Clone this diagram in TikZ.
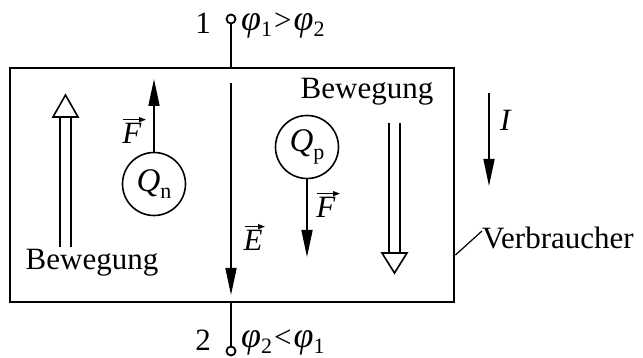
\documentclass[tikz,border=0pt]{standalone}
\usepackage{fontspec}
\setmainfont{Liberation Serif}
\usetikzlibrary{arrows.meta}
\newcommand{\sbs}[1]{\raisebox{-0.22em}{\fontsize{22}{22}\selectfont #1}}
\newcommand{\phisym}{{\fontsize{36}{36}\selectfont\textit{φ}}}
\begin{document}
\begin{tikzpicture}[x=1pt,y=-1pt,
  txt/.style={font=\fontsize{31}{36}\selectfont, inner sep=0pt},
  arr/.style={line width=1.6pt, -{Triangle[length=27pt,width=11pt]}},
  veca/.style={line width=1.2pt, -{Triangle[length=7pt,width=5pt]}},
  charge/.style={circle, draw, line width=1.6pt, minimum size=63pt, inner sep=0pt, font=\fontsize{33}{36}\selectfont},
  term/.style={circle, draw, line width=1.8pt, minimum size=9pt, inner sep=0pt, fill=white},
  hollow/.style={line width=1.6pt}]
\useasboundingbox (0,0) rectangle (643,358);
% box
\node[draw, line width=2.4pt, minimum width=444pt, minimum height=234pt, anchor=north west, inner sep=0pt] (box) at (9,67) {};
% terminals
\node[term] (t1) at (231,19) {};
\node[term] (t2) at (231,351) {};
\draw[line width=1.6pt] (t1.south) -- (t1.south |- box.north);
\draw[line width=1.6pt] (t2.north) -- (t2.north |- box.south);
\node[txt] (n1) at (203,23) {1};
\node[txt, anchor=west] (phi1) at (241,25) {\phisym\sbs{1}\kern2pt>\kern2pt\phisym\sbs{2}};
\node[txt] (n2) at (203,340) {2};
\node[txt, anchor=west] (phi2) at (241,342) {\phisym\sbs{2}\kern2pt<\kern2pt\phisym\sbs{1}};
% E field
\coordinate (e0) at (231,83);
\coordinate (e1) at (231,295);
\draw[arr] (e0) -- (e1);
\node[txt] (el) at (253,240) {\textit{E}};
\draw[veca] ([xshift=-8pt,yshift=3pt]el.north) -- ([xshift=12pt,yshift=3pt]el.north);
% Qn
\node[charge] (qn) at (154,184) {\textit{Q}\sbs{n}};
\coordinate (qnf) at (154,79);
\draw[arr] (qn.north) -- (qnf);
\node[txt] (fn) at (132,133) {\textit{F}};
\draw[veca] ([xshift=-9pt,yshift=3pt]fn.north) -- ([xshift=14pt,yshift=3pt]fn.north);
% Qp
\node[charge] (qp) at (307,147) {\textit{Q}\sbs{p}};
\coordinate (qpf) at (307,257);
\draw[arr] (qp.south) -- (qpf);
\node[txt] (fp) at (326,207) {\textit{F}};
\draw[veca] ([xshift=-9pt,yshift=3pt]fp.north) -- ([xshift=14pt,yshift=3pt]fp.north);
% hollow arrows
\draw[hollow] (60,247) -- (60,117) (71,247) -- (71,117);
\draw[hollow, fill=white] (53,117) -- (65.5,95) -- (78,117) -- cycle;
\draw[hollow] (389,123) -- (389,253) (400,123) -- (400,253);
\draw[hollow, fill=white] (382,253) -- (394.5,273) -- (407,253) -- cycle;
\node[txt] (bw1) at (92,263) {Bewegung};
\node[txt] (bw2) at (367,92) {Bewegung};
% current
\coordinate (i0) at (489,93);
\coordinate (i1) at (489,186);
\draw[arr] (i0) -- (i1);
\node[txt] (il) at (506,120) {\textit{I}};
% Verbraucher
\node[txt, anchor=west] (vb) at (482,238) {Verbraucher};
\draw[line width=1.2pt] (box.east |- 0,255) -- (vb.west |- 0,231);
\end{tikzpicture}
\end{document}
